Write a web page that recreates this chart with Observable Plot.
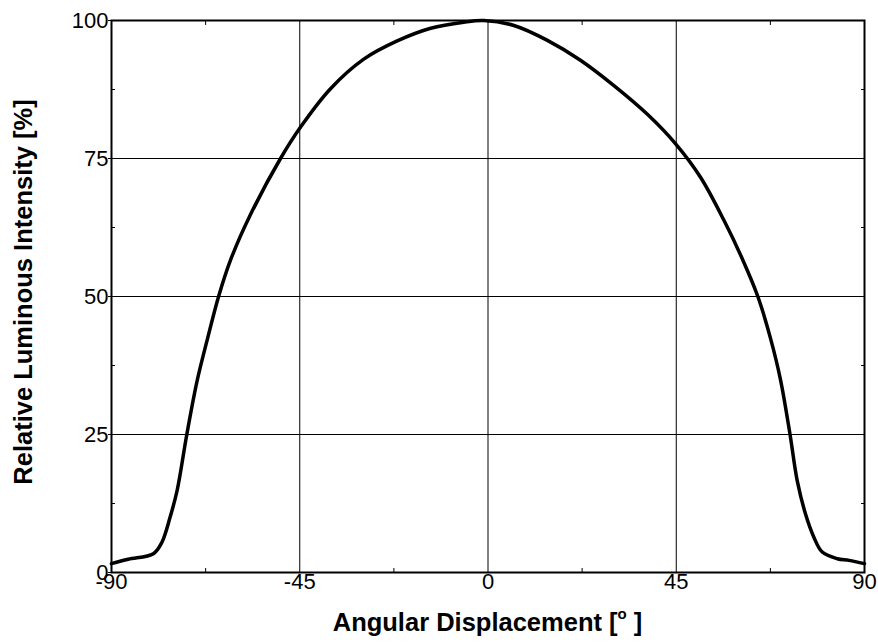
<!DOCTYPE html>
<html>
<head>
<meta charset="utf-8">
<script src="https://cdn.jsdelivr.net/npm/d3@7"></script>
<script src="https://cdn.jsdelivr.net/npm/@observablehq/plot@0.6"></script>
<style>
  html, body { margin: 0; padding: 0; background: #fff; }
  #chart { width: 878px; height: 644px; }
</style>
</head>
<body>
<div id="chart"></div>
<script>
// Angular displacement (degrees) and relative luminous intensity (%)
const angle = [-90, -86, -80, -78, -76, -74.3, -72, -69.6, -67, -64.4, -61.6, -56.8, -49.6, -44.8, -37.7, -29.7, -21.7, -13.7, -5.8, -1, 6.2, 14.2, 22.1, 30.1, 38.1, 44.8, 50.8, 56.4, 60.8, 64.5, 67.5, 69.9, 72.2, 73.9, 75.9, 77.9, 79.9, 83.5, 86.3, 90];
const intensity = [1.6, 2.4, 3.4, 5.4, 10, 14.9, 25, 34.5, 42.5, 50, 56.5, 64.8, 75.0, 80.7, 87.6, 93.0, 96.3, 98.6, 99.7, 100, 99.1, 96.4, 92.8, 88.2, 83.0, 77.7, 71.6, 63.8, 56.8, 50, 42.5, 35, 25, 16.7, 10.6, 6.4, 3.7, 2.5, 2.2, 1.6];
const xTicks = [-90, -45, 0, 45, 90];
const yTicks = [0, 25, 50, 75, 100];
const xMinor = [-67.5, -22.5, 22.5, 67.5];
const yMinor = [12.5, 37.5, 62.5, 87.5];
const xTitle = "Angular Displacement [";
const yTitle = "Relative Luminous Intensity [%]";

const data = angle.map((a, i) => ({angle: a, value: intensity[i]}));

const font = "'Liberation Sans', Arial, sans-serif";
const W = 878, H = 644;
const mL = 111, mT = 20, mR = 14, mB = 72;
const fmt = d => String(d);

const chart = Plot.plot({
  width: W,
  height: H,
  marginLeft: mL,
  marginTop: mT,
  marginRight: mR,
  marginBottom: mB,
  style: {fontFamily: font, fontSize: "22px", color: "#000", background: "#fff", overflow: "visible"},
  x: {domain: [-90, 90]},
  y: {domain: [0, 100]},
  marks: [
    Plot.gridX(xTicks.slice(1, -1), {stroke: "#000", strokeOpacity: 1, strokeWidth: 1}),
    Plot.gridY(yTicks.slice(1, -1), {stroke: "#000", strokeOpacity: 1, strokeWidth: 1}),
    Plot.axisY(yTicks, {tickSize: 3, tickPadding: 0, label: null, stroke: "#000", fontSize: 22, tickFormat: fmt}),
    Plot.axisX(xTicks, {tickSize: 0, tickPadding: 1, label: null, fontSize: 22, tickFormat: fmt}),
    Plot.axisX(xMinor, {anchor: "bottom", tickSize: -4, tickFormat: () => "", label: null}),
    Plot.axisX(xMinor, {anchor: "top", tickSize: -4, tickFormat: () => "", label: null}),
    Plot.axisY(yMinor, {anchor: "left", tickSize: -4, tickFormat: () => "", label: null}),
    Plot.axisY(yMinor, {anchor: "right", tickSize: -4, tickFormat: () => "", label: null}),
    Plot.frame({stroke: "#000", strokeWidth: 2}),
    Plot.line(data, {x: "angle", y: "value", stroke: "#000", strokeWidth: 3.5, curve: "catmull-rom"})
  ]
});

document.getElementById("chart").appendChild(chart);

// Axis titles
const svg = d3.select(chart);
const xt = svg.append("text")
  .attr("x", mL + (W - mL - mR) / 2)
  .attr("y", 631)
  .attr("text-anchor", "middle")
  .attr("font-family", font)
  .attr("font-weight", "bold")
  .attr("font-size", 25.5)
  .attr("fill", "#000");
xt.append("tspan").text(xTitle);
xt.append("tspan").attr("font-size", 15).attr("dy", -12).text("o");
xt.append("tspan").attr("dy", 12).text(" ]");

svg.append("text")
  .attr("transform", `translate(25,${mT + (H - mT - mB) / 2 - 4}) rotate(-90)`)
  .attr("text-anchor", "middle")
  .attr("dominant-baseline", "middle")
  .attr("font-family", font)
  .attr("font-weight", "bold")
  .attr("font-size", 25.5)
  .attr("fill", "#000")
  .text(yTitle);
</script>
</body>
</html>
